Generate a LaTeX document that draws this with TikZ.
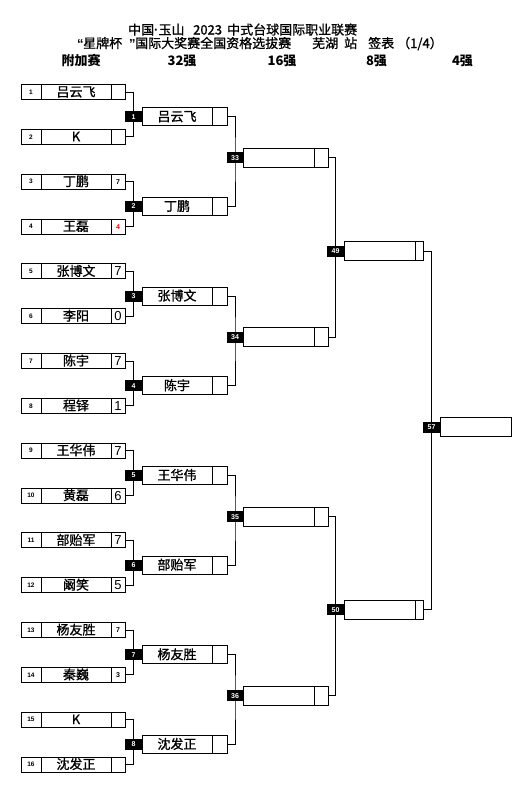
\documentclass[tikz,border=0pt]{standalone}
\usepackage{fontspec}
\setmainfont{Liberation Sans}
\newfontfamily\cjk[FakeBold=1]{Noto Sans CJK SC}
\newfontfamily\cjkb{Noto Sans CJK SC}
\pgfdeclarelayer{bg}
\pgfsetlayers{bg,main}
\tikzset{
  cell/.style={draw, line width=1pt, inner sep=0pt, outer sep=0pt, minimum height=15pt, anchor=west},
  nm/.style={font=\cjk\fontsize{13}{13}\selectfont, text height=10.5pt, text depth=1.5pt},
  sbig/.style={font=\fontsize{13}{13}\selectfont, text height=9.3pt, text depth=0pt},
  ssmall/.style={font=\bfseries\fontsize{7}{7}\selectfont, text height=5pt, text depth=0pt},
  sred/.style={ssmall, text=red},
  seed/.style={font=\bfseries\fontsize{6.5}{6.5}\selectfont, text height=4.6pt, text depth=0pt},
  lab/.style={fill=black, text=white, inner sep=0pt, outer sep=0pt, minimum width=17pt, minimum height=11pt, anchor=east, font=\bfseries\fontsize{7}{7}\selectfont, text height=5pt, text depth=0pt},
  wire/.style={line width=1pt},
  hdr/.style={font=\cjk\fontsize{13}{13}\selectfont, inner sep=0pt, anchor=base west},
  colh/.style={font=\cjkb\bfseries\fontsize{13}{13}\selectfont, inner sep=0pt, anchor=base}
}
% first round box: #1 index, #2 y, #3 name, #4 score, #5 score style
\newcommand\rone[5]{%
  \node[cell, minimum width=20pt, seed] (s#1) at (21,#2) {#1};
  \node[cell, minimum width=70pt, nm] (n#1) at (41,#2) {#3};
  \node[cell, minimum width=14pt, #5] (c#1) at (111,#2) {#4};
}
% second round box
\newcommand\rtwo[3]{%
  \node[cell, minimum width=70pt, minimum height=18pt, nm] (m#1) at (142,#2) {#3};
  \node[cell, minimum width=15pt, minimum height=18pt] (d#1) at (212,#2) {};
  \node[lab] (g#1) at (142,#2) {#1};
}
\newcommand\rthree[2]{%
  \node[cell, minimum width=71pt, minimum height=19pt] (m#1) at (243.5,#2) {};
  \node[cell, minimum width=13.5pt, minimum height=19pt] (d#1) at (314.5,#2) {};
  \node[lab] (g#1) at (243.5,#2) {#1};
}
\newcommand\rfour[2]{%
  \node[cell, minimum width=71.5pt, minimum height=19pt] (m#1) at (344,#2) {};
  \node[cell, minimum width=8pt, minimum height=19pt] (d#1) at (415.5,#2) {};
  \node[lab] (g#1) at (344,#2) {#1};
}
\begin{document}
\begin{tikzpicture}[x=1pt,y=-1pt]
\begin{pgfonlayer}{bg}
\fill[white] (0,0) rectangle (526,785);
\end{pgfonlayer}
\useasboundingbox (0,0) rectangle (526,785);

% header
\node[hdr] (h1a) at (128,34.5) {中国{\rmfamily\bfseries ·}玉山};
\node[hdr] (h1b) at (193,34.5) {2023};
\node[hdr] (h1c) at (227,34.5) {中式台球国际职业联赛};
\node[hdr, font=\bfseries\fontsize{13}{13}\selectfont] (h2a) at (77,48) {“};
\node[hdr] (h2b) at (83,48) {星牌杯};
\node[hdr, font=\bfseries\fontsize{13}{13}\selectfont] (h2c) at (129,48) {”};
\node[hdr] (h2d) at (135,48) {国际大奖赛全国资格选拔赛};
\node[hdr] (h2e) at (312,48) {芜湖};
\node[hdr] (h2f) at (344,48) {站};
\node[hdr] (h2g) at (368,48) {签表};
\node[hdr] (h2h) at (397,48) {（1/4）};
\node[colh] (k1) at (81,65.5) {附加赛};
\node[colh] (k2) at (182,65.5) {32强};
\node[colh] (k3) at (282,65.5) {16强};
\node[colh] (k4) at (376.5,65.5) {8强};
\node[colh] (k5) at (462.5,65.5) {4强};

% round 1
\rone{1}{92}{吕云飞}{}{sbig}
\rone{2}{136.83}{K}{}{sbig}
\rone{3}{181.67}{丁鹏}{7}{ssmall}
\rone{4}{226.5}{王磊}{4}{sred}
\rone{5}{271.33}{张博文}{7}{sbig}
\rone{6}{316.17}{李阳}{0}{sbig}
\rone{7}{361}{陈宇}{7}{sbig}
\rone{8}{405.83}{程铎}{1}{sbig}
\rone{9}{450.67}{王华伟}{7}{sbig}
\rone{10}{495.5}{黄磊}{6}{sbig}
\rone{11}{540.33}{部贻军}{7}{sbig}
\rone{12}{585.17}{阚笑}{5}{sbig}
\rone{13}{630}{杨友胜}{7}{ssmall}
\rone{14}{674.83}{秦巍}{3}{ssmall}
\rone{15}{719.67}{K}{}{sbig}
\rone{16}{764.5}{沈发正}{}{sbig}

% round 2
\rtwo{1}{116.7}{吕云飞}
\rtwo{2}{206.4}{丁鹏}
\rtwo{3}{296.0}{张博文}
\rtwo{4}{385.7}{陈宇}
\rtwo{5}{475.4}{王华伟}
\rtwo{6}{565.1}{部贻军}
\rtwo{7}{654.7}{杨友胜}
\rtwo{8}{744.4}{沈发正}

% round 3
\rthree{33}{157.8}
\rthree{34}{337.1}
\rthree{35}{516.5}
\rthree{36}{695.8}

% round 4
\rfour{49}{251.0}
\rfour{50}{609.7}

% final
\node[cell, minimum width=71pt, minimum height=19pt] (m57) at (440,427) {};
\node[lab] (g57) at (440,427) {57};

\begin{pgfonlayer}{bg}
\draw[wire] (c1.east) -| (g1.center) |- (c2.east);
\draw[wire] (c3.east) -| (g2.center) |- (c4.east);
\draw[wire] (c5.east) -| (g3.center) |- (c6.east);
\draw[wire] (c7.east) -| (g4.center) |- (c8.east);
\draw[wire] (c9.east) -| (g5.center) |- (c10.east);
\draw[wire] (c11.east) -| (g6.center) |- (c12.east);
\draw[wire] (c13.east) -| (g7.center) |- (c14.east);
\draw[wire] (c15.east) -| (g8.center) |- (c16.east);
\draw[wire] (d1.east) -| (g33.center) |- (d2.east);
\draw[wire] (d3.east) -| (g34.center) |- (d4.east);
\draw[wire] (d5.east) -| (g35.center) |- (d6.east);
\draw[wire] (d7.east) -| (g36.center) |- (d8.east);
\draw[wire] (d33.east) -| (g49.center) |- (d34.east);
\draw[wire] (d35.east) -| (g50.center) |- (d36.east);
\draw[wire] (d49.east) -| (g57.center) |- (d50.east);
\end{pgfonlayer}
\end{tikzpicture}
\end{document}
